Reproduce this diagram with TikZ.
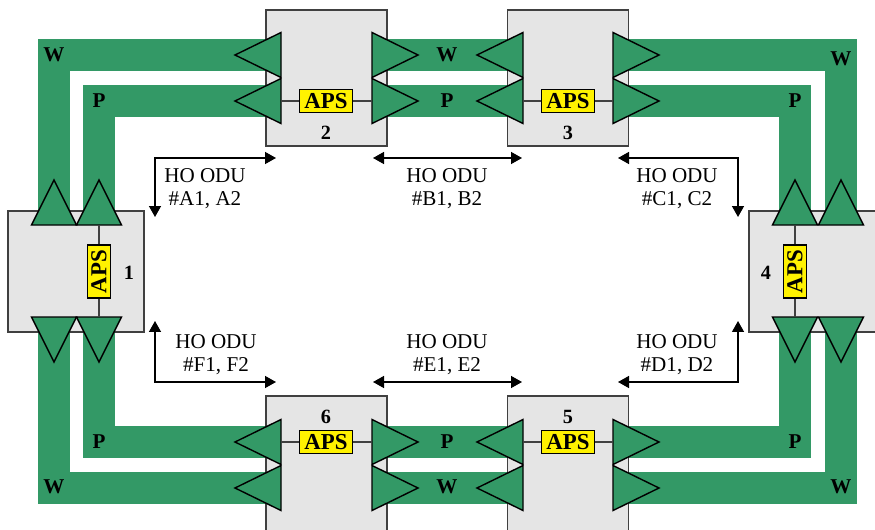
\documentclass[tikz,border=0pt]{standalone}
\usepackage{fontspec}
\setmainfont{Liberation Serif}
\usetikzlibrary{arrows.meta}
\definecolor{bandgreen}{RGB}{51,153,102}
\definecolor{boxgray}{RGB}{229,229,229}

\begin{document}
\begin{tikzpicture}[x=0.02cm,y=-0.02cm,line width=0.8pt,>={Triangle[length=2.2mm,width=2.4mm]},
  sidenode/.style={draw=black!75,line width=0.6pt,fill=boxgray,minimum width=2.72cm,minimum height=2.42cm,inner sep=0pt},
  ringnode/.style={draw=black!75,line width=0.6pt,fill=boxgray,minimum width=2.42cm,minimum height=2.72cm,inner sep=0pt},
  aps/.style={draw=black,line width=0.7pt,fill=yellow,inner sep=0pt,minimum width=1.06cm,minimum height=0.46cm,font=\fontsize{13}{13}\selectfont\bfseries},
  amp/.style={draw=black,fill=bandgreen,line width=0.8pt,line join=miter},
  wp/.style={font=\fontsize{12}{12}\selectfont\bfseries},
  num/.style={font=\fontsize{11.5}{12}\selectfont\bfseries},
  odu/.style={align=center,font=\fontsize{12}{13}\selectfont}]
\useasboundingbox (0,0) rectangle (875,530);
\clip (0,0) rectangle (875,530);
% ---------- W / P ring ----------
\draw[bandgreen,line width=0.64cm,line join=miter] (54,55) rectangle (841,488);
\draw[bandgreen,line width=0.64cm,line join=miter] (99,101) rectangle (795,442);
% ---------- NE boxes ----------
\node[sidenode] (n1) at (76,271.5) {};
\node[sidenode] (n4) at (817,271.5) {};
\node[ringnode] (n2) at (326.5,78) {};
\node[ringnode] (n3) at (568,78) {};
\node[ringnode] (n6) at (326.5,464) {};
\node[ringnode] (n5) at (568,464) {};
% amplifiers, horizontal
\foreach \bx/\d in {281/-1,523/-1,372/1,613/1}
  \foreach \cy in {55,101,442,488}
    \draw[amp] (\bx,\cy-22.5) -- (\bx+46*\d,\cy) -- (\bx,\cy+22.5) -- cycle;
% amplifiers, vertical
\foreach \cx in {54,99,795,841}
  \foreach \by/\d in {225/-1,317/1}
    \draw[amp] (\cx-22.5,\by) -- (\cx,\by+45*\d) -- (\cx+22.5,\by) -- cycle;
% APS on the P line
\draw[black!75,line width=0.7pt] (281,101) -- (372,101) (523,101) -- (613,101)
  (281,442) -- (372,442) (523,442) -- (613,442)
  (99,225) -- (99,317) (795,225) -- (795,317);
\node[aps] (aps2) at (326,101) {APS};
\node[aps] (aps3) at (568,101) {APS};
\node[aps] (aps6) at (326,442) {APS};
\node[aps] (aps5) at (568,442) {APS};
\node[aps,rotate=90] (aps1) at (99,271.5) {APS};
\node[aps,rotate=90] (aps4) at (795,271.5) {APS};
% node numbers
\node[num] (l1) at (129,273) {1};
\node[num] (l2) at (326,133) {2};
\node[num] (l3) at (568,133) {3};
\node[num] (l4) at (766,273) {4};
\node[num] (l5) at (568,417) {5};
\node[num] (l6) at (326,417) {6};
% W and P
\foreach \x/\y/\t [count=\k] in {54/55/W,447/55/W,841/59/W,99/101/P,447/101/P,795/101/P,
    99/442/P,447/442/P,795/442/P,54/487/W,447/487/W,841/487/W}
  \node[wp] (wp\k) at (\x,\y) {\t};
% ---------- HO ODU ----------
\coordinate (a1) at (155,217); \coordinate (a2) at (276,158);
\coordinate (b1) at (373,158); \coordinate (b2) at (522,158);
\coordinate (c1) at (618,158); \coordinate (c2) at (738,217);
\coordinate (d1) at (618,382); \coordinate (d2) at (738,321);
\coordinate (e1) at (373,382); \coordinate (e2) at (522,382);
\coordinate (f1) at (155,321); \coordinate (f2) at (276,382);
\draw[<->] (a1) |- (a2);
\draw[<->] (b1) -- (b2);
\draw[<->] (c1) -| (c2);
\draw[<->] (d1) -| (d2);
\draw[<->] (e1) -- (e2);
\draw[<->] (f1) |- (f2);
\node[odu] (ta) at (205,189) {HO ODU\\\#A1, A2};
\node[odu] (tb) at (447,189) {HO ODU\\\#B1, B2};
\node[odu] (tc) at (677,189) {HO ODU\\\#C1, C2};
\node[odu] (td) at (677,355) {HO ODU\\\#D1, D2};
\node[odu] (te) at (447,355) {HO ODU\\\#E1, E2};
\node[odu] (tf) at (216,355) {HO ODU\\\#F1, F2};
\end{tikzpicture}
\end{document}
